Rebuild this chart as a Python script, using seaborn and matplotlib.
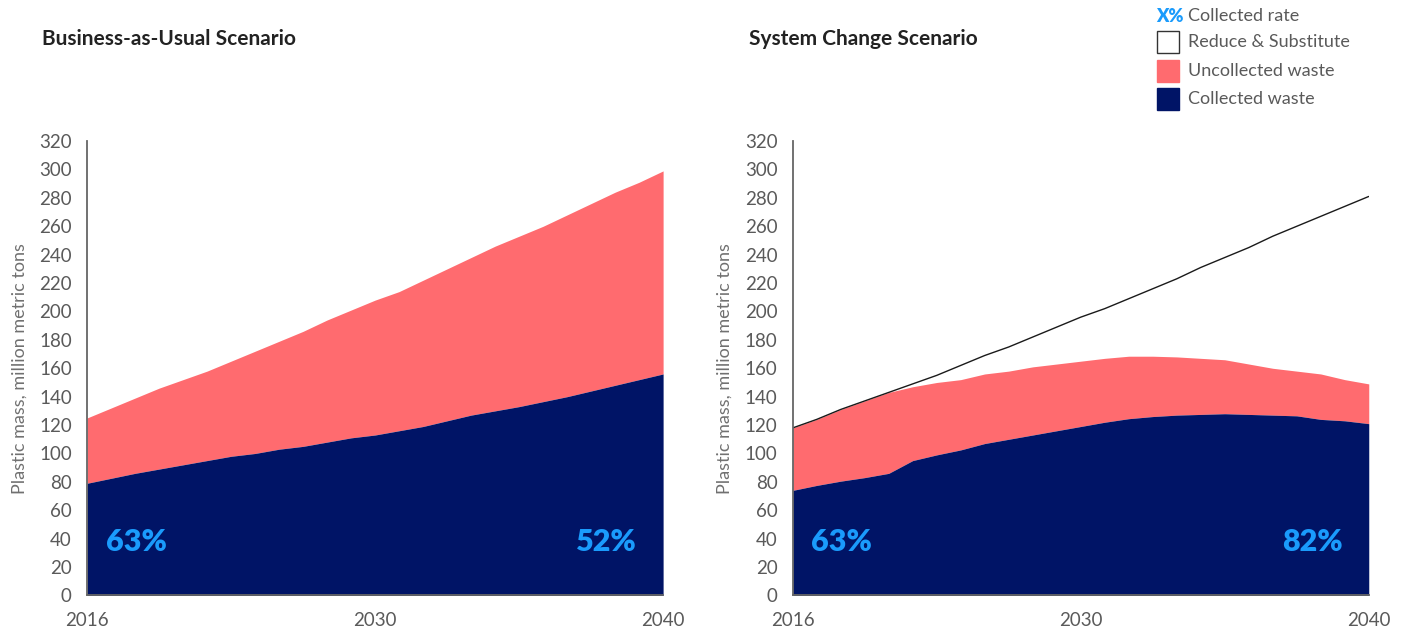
import numpy as np
import pandas as pd
import seaborn as sns
import matplotlib.pyplot as plt
from matplotlib.patches import Rectangle

years = list(range(2016, 2041))

# Business-as-Usual: total waste and collected waste (million metric tons)
bau_total = [125, 132, 139, 146, 152, 158, 165, 172, 179, 186, 194, 201, 208,
             214, 222, 230, 238, 246, 253, 260, 268, 276, 284, 291, 299]
bau_collected = [79, 82.5, 86, 89, 92, 95, 98, 100, 103, 105, 108, 111, 113,
                 116, 119, 123, 127, 130, 133, 136.5, 140, 144, 148, 152, 156]

# System Change: reduce & substitute line, total waste and collected waste
sc_reduce = [118, 124, 131, 137, 143, 149, 155, 162, 169, 175, 182, 189, 196,
             202, 209, 216, 223, 231, 238, 245, 253, 260, 267, 274, 281]
sc_total = [118, 124, 131, 137, 143, 147, 150, 152, 156, 158, 161, 163, 165,
            167, 168.5, 168.5, 168, 167, 166, 163, 160, 158, 156, 152, 149]
sc_collected = [74, 77.5, 80.5, 83, 86, 95, 99, 102.5, 107, 110, 113, 116, 119,
                122, 124.5, 126, 127, 127.5, 128, 127.5, 127, 126.5, 124, 123, 121]

titles = ["Business-as-Usual Scenario", "System Change Scenario"]
rates_start = ["63%", "63%"]
rates_end = ["52%", "82%"]
tick_pos = [2016, 2028, 2040]
tick_labels = ["2016", "2030", "2040"]
y_ticks = list(range(0, 321, 20))

NAVY = "#001466"
PINK = "#FF6B6F"
BLUE = "#1A9BFC"
GREY = "#5a5a5a"

sns.set_style("white")
plt.rcParams["font.family"] = ["Lato", "DejaVu Sans"]

fig = plt.figure(figsize=(14.04, 6.29), dpi=100)
ax1 = fig.add_axes([0.0620, 0.0533, 0.4103, 0.7224])
ax2 = fig.add_axes([0.5646, 0.0533, 0.4103, 0.7224])

df_bau = pd.DataFrame({"year": years, "total": bau_total, "collected": bau_collected})
df_sc = pd.DataFrame({"year": years, "total": sc_total, "collected": sc_collected,
                      "reduce": sc_reduce})

for ax, df in [(ax1, df_bau), (ax2, df_sc)]:
    ax.fill_between(df["year"], df["collected"], df["total"], color=PINK, lw=0)
    ax.fill_between(df["year"], 0, df["collected"], color=NAVY, lw=0)

sns.lineplot(data=df_sc, x="year", y="reduce", ax=ax2, color="#1a1a1a", lw=1.0)

for i, ax in enumerate([ax1, ax2]):
    ax.set_xlim(2016, 2040)
    ax.set_ylim(0, 320)
    ax.set_yticks(y_ticks)
    ax.set_yticklabels([str(v) for v in y_ticks])
    ax.set_xticks(tick_pos)
    ax.set_xticklabels(tick_labels)
    for s in ["top", "right"]:
        ax.spines[s].set_visible(False)
    for s in ["left", "bottom"]:
        ax.spines[s].set_color("#666666")
        ax.spines[s].set_linewidth(1.3)
    ax.tick_params(axis="y", length=7, width=1.3, color="#555555", pad=4,
                   labelsize=13.5, labelcolor=GREY)
    ax.tick_params(axis="x", length=0, pad=12, labelsize=13.5, labelcolor=GREY)
    ax.set_xlabel("")
    ax.set_ylabel("Plastic mass, million metric tons", fontsize=13,
                  color="#707070")
    ax.yaxis.set_label_coords(-0.104, 0.5)
    ax.text(2018.05, 38, rates_start[i], color=BLUE, fontsize=22,
            fontweight="heavy", ha="center", va="center")
    ax.text(2037.65, 38, rates_end[i], color=BLUE, fontsize=22,
            fontweight="heavy", ha="center", va="center")

fig.text(42 / 1404, 1 - 39 / 629, titles[0], fontsize=15, fontweight="bold",
         color="#222222", ha="left", va="center")
fig.text(749 / 1404, 1 - 39 / 629, titles[1], fontsize=15, fontweight="bold",
         color="#222222", ha="left", va="center")

# legend
W, H = 1404, 629
leg_items = [("Reduce & Substitute", "white", "#333333"),
             ("Uncollected waste", PINK, PINK),
             ("Collected waste", NAVY, NAVY)]
fig.text(1156 / W, 1 - 16 / H, "X%", color=BLUE, fontsize=13, fontweight="heavy",
         ha="left", va="center")
fig.text(1188 / W, 1 - 16 / H, "Collected rate", color=GREY, fontsize=13,
         ha="left", va="center")
for k, (lab, fc, ec) in enumerate(leg_items):
    yc = 42 + k * 28.5
    fig.patches.append(Rectangle((1157 / W, 1 - (yc + 11) / H), 22 / W, 22 / H,
                                 transform=fig.transFigure, facecolor=fc,
                                 edgecolor=ec, lw=1.0))
    fig.text(1188 / W, 1 - yc / H, lab, color=GREY, fontsize=13,
             ha="left", va="center")

fig.savefig("out.png", dpi=100)
